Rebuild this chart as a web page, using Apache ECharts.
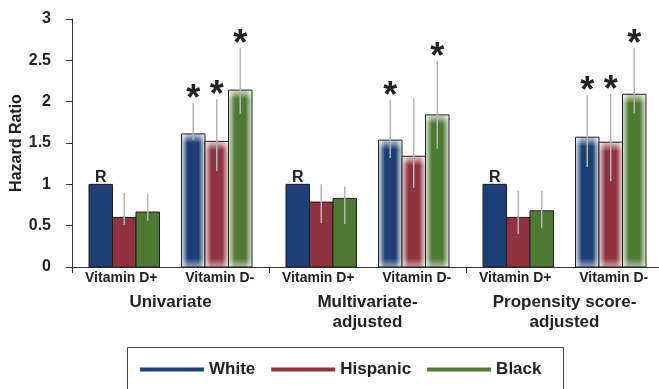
<!DOCTYPE html>
<html>
<head>
<meta charset="utf-8">
<title>Hazard Ratio by vitamin D status</title>
<script src="https://cdn.jsdelivr.net/npm/echarts@6/dist/echarts.min.js"></script>
<style>
  html, body { margin: 0; padding: 0; background: #fff; }
  #chart { width: 659px; height: 389px; }
</style>
</head>
<body>
<div id="chart"></div>
<script>
// Sub-groups (x categories) and the models they belong to
const subgroups = ['Vitamin D+', 'Vitamin D-', 'Vitamin D+', 'Vitamin D-', 'Vitamin D+', 'Vitamin D-'];
const models = ['Univariate', 'Multivariate-\nadjusted', 'Propensity score-\nadjusted'];
const races = ['White', 'Hispanic', 'Black'];
const yTicks = [0, 0.5, 1, 1.5, 2, 2.5, 3];

// Hazard ratios with confidence limits; 'R' = reference, '*' = significant
const whiteHR   = [1.00, 1.61, 1.00, 1.535, 1.00, 1.57];
const whiteLow  = [null, 1.54, null, 1.32, null, 1.21];
const whiteHigh = [null, 1.98, null, 2.02, null, 2.08];
const whiteSig  = ['R', '*', 'R', '*', 'R', '*'];

const hispanicHR   = [0.60, 1.52, 0.785, 1.34, 0.60, 1.51];
const hispanicLow  = [0.51, 1.16, 0.53, 0.96, 0.40, 1.04];
const hispanicHigh = [0.895, 2.03, 1.00, 2.04, 0.92, 2.09];
const hispanicSig  = ['', '*', '', '', '', '*'];

const blackHR   = [0.665, 2.14, 0.83, 1.84, 0.68, 2.09];
const blackLow  = [0.56, 1.85, 0.52, 1.43, 0.47, 1.86];
const blackHigh = [0.88, 2.65, 0.97, 2.49, 0.92, 2.65];
const blackSig  = ['', '*', '', '*', '', '*'];

const FONT = '"Liberation Sans", Arial, Helvetica, sans-serif';
const TEXT = '#222';
const colors = ['#1c3f75', '#8f3340', '#4f7a34'];
const softEdge = ['#dde2ec', '#ecd6d9', '#dfe7d6'];

const raceData = [
  { hr: whiteHR, low: whiteLow, high: whiteHigh, sig: whiteSig },
  { hr: hispanicHR, low: hispanicLow, high: hispanicHigh, sig: hispanicSig },
  { hr: blackHR, low: blackLow, high: blackHigh, sig: blackSig }
];

const BAR_W = 23.5;

function makeRenderer(r) {
  const d = raceData[r];
  return function (params, api) {
    const i = params.dataIndex;
    const cat = api.value(0);
    const hr = api.value(1);
    const base = api.coord([cat, 0]);
    const top = api.coord([cat, hr]);
    const shift = (cat % 2 === 0) ? 3 : -3;   // pull the triplets toward the model centre
    const cx = base[0] + shift + (r - 1) * BAR_W;
    const x0 = cx - BAR_W / 2;
    const h = base[1] - top[1];
    const deficient = cat % 2 === 1;
    const children = [];

    const fill = deficient ? {
      type: 'linear', x: 0, y: 0, x2: 1, y2: 0,
      colorStops: [
        { offset: 0, color: softEdge[r] },
        { offset: 0.27, color: colors[r] },
        { offset: 0.73, color: colors[r] },
        { offset: 1, color: softEdge[r] }
      ]
    } : colors[r];

    children.push({
      type: 'rect',
      shape: { x: x0, y: top[1], width: BAR_W, height: h },
      style: { fill: fill }
    });

    if (deficient) {
      const f = Math.min(1, 9 / h);
      children.push({
        type: 'rect',
        shape: { x: x0, y: top[1], width: BAR_W, height: h },
        style: {
          fill: {
            type: 'linear', x: 0, y: 0, x2: 0, y2: 1,
            colorStops: [
              { offset: 0, color: 'rgba(255,255,255,0.75)' },
              { offset: f, color: 'rgba(255,255,255,0)' },
              { offset: 1 - f, color: 'rgba(255,255,255,0)' },
              { offset: 1, color: 'rgba(255,255,255,0.5)' }
            ]
          }
        }
      });
    }

    children.push({
      type: 'rect',
      shape: { x: x0, y: top[1], width: BAR_W, height: h },
      style: { fill: 'none', stroke: '#1e1e1e', lineWidth: 1 }
    });

    let errTop = null;
    if (d.low[i] != null && d.high[i] != null) {
      const lo = api.coord([cat, d.low[i]]);
      const hi = api.coord([cat, d.high[i]]);
      errTop = hi[1];
      children.push({
        type: 'line',
        shape: { x1: cx, y1: lo[1], x2: cx, y2: hi[1] },
        style: { stroke: '#b4b4b4', lineWidth: 1.5 }
      });
    }

    if (d.sig[i] === 'R') {
      children.push({
        type: 'text',
        style: {
          x: cx, y: top[1] + 1, text: 'R',
          align: 'center', verticalAlign: 'bottom',
          font: 'bold 16px ' + FONT, fill: TEXT
        }
      });
    } else if (d.sig[i] === '*') {
      const ref = errTop != null ? errTop : top[1];
      children.push({
        type: 'text',
        style: {
          x: cx, y: ref - 3, text: '*',
          align: 'center', verticalAlign: 'middle',
          font: 'bold 36px ' + FONT, fill: TEXT
        }
      });
    }

    return { type: 'group', children: children };
  };
}

const series = raceData.map(function (d, r) {
  return {
    name: races[r],
    type: 'custom',
    renderItem: makeRenderer(r),
    itemStyle: { color: colors[r] },
    encode: { x: 0, y: 1 },
    clip: false,
    data: d.hr.map(function (v, i) { return [i, v]; })
  };
});

const chart = echarts.init(document.getElementById('chart'), null, { renderer: 'canvas' });

chart.setOption({
  animation: false,
  backgroundColor: '#fff',
  textStyle: { fontFamily: FONT },
  grid: { left: 72, top: 19, width: 591, height: 248, containLabel: false, outerBoundsMode: 'none' },
  legend: {
    data: races.map(function (n) { return { name: n, icon: 'rect' }; }),
    left: 140, top: 361, padding: 0,
    itemWidth: 64, itemHeight: 4, itemGap: 16,
    textStyle: { fontFamily: FONT, fontWeight: 'bold', fontSize: 17, color: TEXT },
    selectedMode: false
  },
  graphic: [{
    type: 'rect',
    shape: { x: 127.5, y: 347.5, width: 436, height: 60 },
    style: { fill: 'none', stroke: '#444', lineWidth: 1 },
    silent: true
  }],
  xAxis: [{
    type: 'category',
    data: subgroups,
    position: 'bottom',
    offset: 0,
    axisLine: { show: true, lineStyle: { color: '#333', width: 1 } },
    axisTick: { show: false },
    axisLabel: { interval: 0, margin: 4, fontFamily: FONT, fontWeight: 'bold', fontSize: 14, color: TEXT }
  }, {
    type: 'category',
    data: models,
    position: 'bottom',
    offset: 0,
    axisLine: { show: false },
    axisTick: { show: true, length: 6, lineStyle: { color: '#333' } },
    axisLabel: { interval: 0, margin: 25, fontFamily: FONT, fontWeight: 'bold', fontSize: 17, lineHeight: 20, color: TEXT }
  }],
  yAxis: {
    type: 'value',
    min: yTicks[0], max: yTicks[yTicks.length - 1], interval: 0.5,
    name: 'Hazard Ratio',
    nameLocation: 'middle',
    nameGap: 47,
    nameMoveOverlap: false,
    nameTextStyle: { fontFamily: FONT, fontWeight: 'bold', fontSize: 16, color: TEXT },
    splitLine: { show: false },
    axisLine: { show: true, lineStyle: { color: '#333', width: 1 } },
    axisTick: { show: true, length: 6, lineStyle: { color: '#333' } },
    axisLabel: { margin: 21, fontFamily: FONT, fontWeight: 'bold', fontSize: 16, color: TEXT }
  },
  series: series
});
</script>
</body>
</html>
